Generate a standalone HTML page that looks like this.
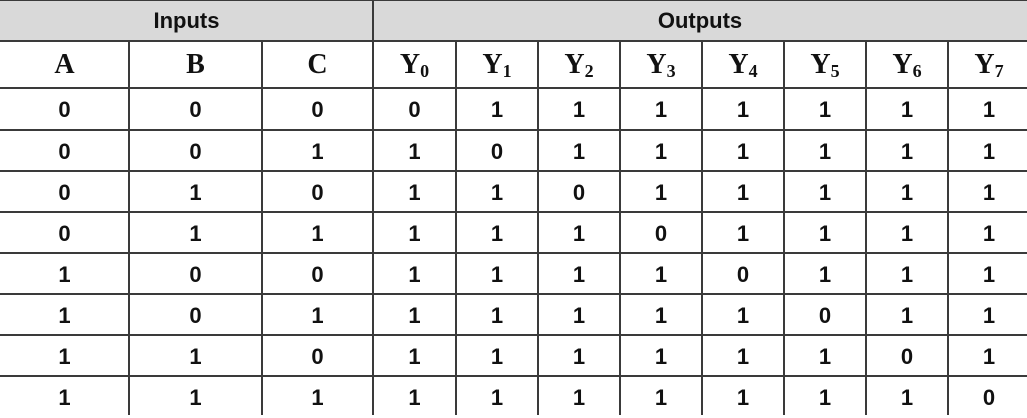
<!DOCTYPE html>
<html><head><meta charset="utf-8"><style>
html,body{margin:0;padding:0;background:#fff;width:1027px;height:415px;overflow:hidden}
.c{position:absolute;display:flex;align-items:center;justify-content:center;box-sizing:border-box}
.hl{position:absolute;left:0;width:1027px;height:2px;background:#3a3a3a}
.vl{position:absolute;width:2px;background:#3a3a3a}
.g{font-family:"Liberation Sans",sans-serif;font-weight:bold;font-size:22px;color:#111}
.s{font-family:"Liberation Serif",serif;font-weight:bold;font-size:28px;color:#111}
.s span{display:inline-block;white-space:nowrap}
.s sub{font-size:18px;vertical-align:baseline;position:relative;top:4px}
</style></head><body>
<div id="t" style="position:absolute;left:0;top:0;width:1027px;height:415px">
<div style="position:absolute;left:0;top:0;width:1027px;height:41px;background:#d9d9d9"></div>
</div>
<script>
const cols=[0,129,262,373,456,538,620,702,784,866,948,1030];
const rows=[41,88,130,171,212,253,294,335,376,417];
const headers=['A','B','C','Y<sub>0</sub>','Y<sub>1</sub>','Y<sub>2</sub>','Y<sub>3</sub>','Y<sub>4</sub>','Y<sub>5</sub>','Y<sub>6</sub>','Y<sub>7</sub>'];
const inputsA=[0,0,0,0,1,1,1,1];
const inputsB=[0,0,1,1,0,0,1,1];
const inputsC=[0,1,0,1,0,1,0,1];
const t=document.getElementById('t');
function cell(x,y,w,h,html,cls,name){const d=document.createElement('div');d.className='c '+cls;d.style.cssText+=`left:${x}px;top:${y}px;width:${w}px;height:${h}px`;d.innerHTML=html;


t.appendChild(d);}
cell(0,1,373,40,'Inputs','g','inputs-header');
cell(373,1,654,40,'Outputs','g','outputs-header');
for(let i=0;i<11;i++)cell(cols[i],rows[0],cols[i+1]-cols[i],rows[1]-rows[0],'<span>'+headers[i]+'</span>','s','column-header');
for(let r=0;r<8;r++){
 const vals=[inputsA[r],inputsB[r],inputsC[r]];
 for(let k=0;k<8;k++)vals.push(k===r?0:1);
 for(let i=0;i<11;i++)cell(cols[i],rows[r+1]+1,cols[i+1]-cols[i],rows[r+2]-rows[r+1],String(vals[i]),'g','table-cell');
}
[0,41,88,130,171,212,253,294,335,376].forEach(y=>{const l=document.createElement('div');l.className='hl';l.style.top=(y-1)+'px';


t.appendChild(l);});
cols.slice(1,11).forEach((x,i)=>{const l=document.createElement('div');l.className='vl';const top=(i===2)?0:41;l.style.cssText+=`left:${x-1}px;top:${top}px;height:${415-top}px`;


t.appendChild(l);});
</script>
</body></html>
